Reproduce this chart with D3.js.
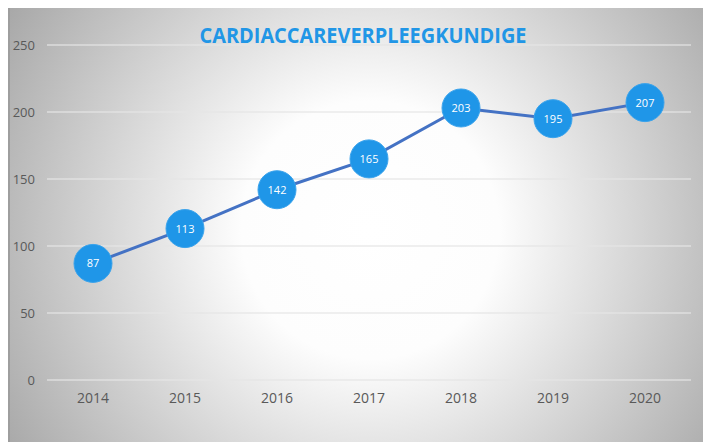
<!DOCTYPE html>
<html>
<head>
<meta charset="utf-8">
<script src="https://cdn.jsdelivr.net/npm/d3@7"></script>
<style>
  body { margin: 0; background: #fff; }
  svg { display: block; }
</style>
</head>
<body>
<div id="chart"></div>
<script>
const years = ["2014", "2015", "2016", "2017", "2018", "2019", "2020"];
const values = [87, 113, 142, 165, 203, 195, 207];
const yTicks = [0, 50, 100, 150, 200, 250];
const title = "CARDIACCAREVERPLEEGKUNDIGE";

const width = 703;
const height = 442;

const svg = d3.select("#chart")
              .append("svg")
              .attr("width", width)
              .attr("height", height);

// radial background, white in the middle, grey at the edges
const defs = svg.append("defs");
const grad = defs.append("radialGradient")
                 .attr("id", "bg")
                 .attr("gradientUnits", "userSpaceOnUse")
                 .attr("cx", 370).attr("cy", 230)
                 .attr("r", 430);
grad.append("stop").attr("offset", "0%").attr("stop-color", "#ffffff");
grad.append("stop").attr("offset", "30%").attr("stop-color", "#fdfdfd");
grad.append("stop").attr("offset", "100%").attr("stop-color", "#a6a6a6");

svg.append("rect")
   .attr("x", 8)
   .attr("y", 8)
   .attr("width", width - 8)
   .attr("height", height - 8)
   .attr("fill", "url(#bg)");

svg.append("rect")
   .attr("x", 8).attr("y", 8)
   .attr("width", 2).attr("height", height - 8)
   .attr("fill", "#9e9e9e");

// scales
const x = d3.scaleBand()
            .domain(years)
            .range([47, 691]);

const y = d3.scaleLinear()
            .domain([0, 250])
            .range([380, 45]);

// gridlines
svg.append("g")
   .selectAll("line")
   .data(yTicks)
   .enter()
   .append("line")
   .attr("x1", 47)
   .attr("x2", 691)
   .attr("y1", d => y(d))
   .attr("y2", d => y(d))
   .style("stroke", "#e6e6e6")
   .style("stroke-width", 1.5)
   .style("opacity", 0.8);

// y axis labels
const yAxis = d3.axisLeft(y).tickValues(yTicks).tickSize(0).tickPadding(0);
svg.append("g")
   .attr("transform", "translate(35,0)")
   .call(yAxis)
   .call(g => g.select(".domain").remove())
   .call(g => g.selectAll("text")
               .style("font-family", "Open Sans, sans-serif")
               .style("font-size", "13px")
               .style("fill", "#595959"));

// x axis labels
const xAxis = d3.axisBottom(x).tickSize(0).tickPadding(0);
svg.append("g")
   .attr("transform", "translate(0,393)")
   .call(xAxis)
   .call(g => g.select(".domain").remove())
   .call(g => g.selectAll("text")
               .style("font-family", "Open Sans, sans-serif")
               .style("font-size", "14px")
               .style("fill", "#595959"));

// title
svg.append("text")
   .attr("x", 363)
   .attr("y", 43)
   .attr("text-anchor", "middle")
   .attr("textLength", 327)
   .attr("lengthAdjust", "spacingAndGlyphs")
   .style("font-family", "Open Sans, sans-serif")
   .style("font-weight", "bold")
   .style("font-size", "21px")
   .style("fill", "#2196e6")
   .text(title);

// line
const line = d3.line()
               .x((d, i) => x(years[i]) + x.bandwidth() / 2)
               .y(d => y(d));

svg.append("path")
   .datum(values)
   .attr("d", line)
   .style("fill", "none")
   .style("stroke", "#4472c4")
   .style("stroke-width", 3);

// markers
const pts = svg.append("g")
               .selectAll("g")
               .data(values)
               .enter()
               .append("g")
               .attr("transform", (d, i) => `translate(${x(years[i]) + x.bandwidth() / 2},${y(d)})`);

pts.append("circle")
   .attr("r", 19)
   .style("fill", "#1f96e8")
   .style("stroke", "#3aa3ec")
   .style("stroke-width", 1);

pts.append("text")
   .attr("dy", 4)
   .attr("text-anchor", "middle")
   .style("font-family", "Open Sans, sans-serif")
   .style("font-size", "11px")
   .style("fill", "#ffffff")
   .text(d => d);
</script>
</body>
</html>
